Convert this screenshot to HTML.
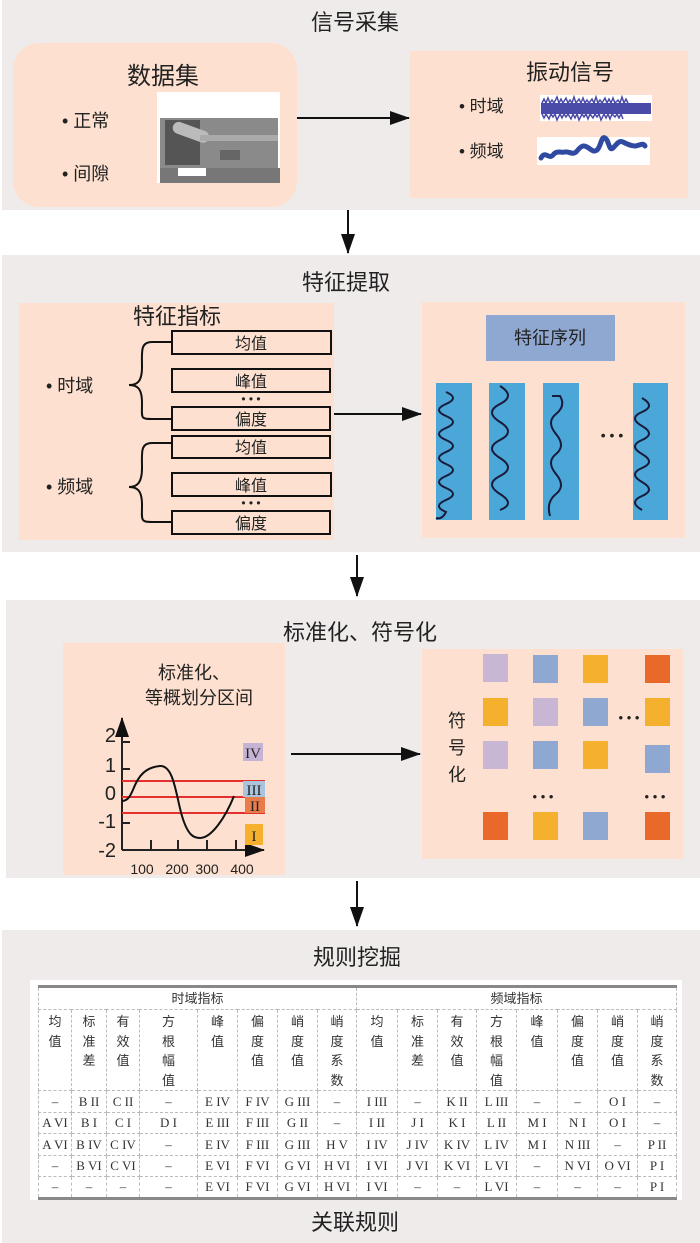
<!DOCTYPE html>
<html><head><meta charset="utf-8"><style>
*{margin:0;padding:0;box-sizing:border-box}
body{width:700px;height:1243px;background:#fff;position:relative;overflow:hidden;font-family:"Liberation Sans","Noto Sans CJK SC",sans-serif;color:#222}
svg{position:absolute;left:0;top:0}
.t{font-family:"Liberation Sans","Noto Sans CJK SC",sans-serif;fill:#222}
table{position:absolute;left:38px;top:985px;width:638px;border-collapse:collapse;font-family:"Liberation Serif","Noto Serif CJK SC",serif;font-size:13px;table-layout:fixed;background:#fff;border-top:3px solid #888;border-bottom:3px solid #888}
td{border:1px dashed #bbb;text-align:center;vertical-align:top;padding:0;line-height:19.5px;color:#333}
tr.h1 td{height:23px;vertical-align:middle;font-family:"Liberation Sans","Noto Sans CJK SC",sans-serif;font-size:13px}
tr.h2 td{height:79px;padding-top:2px;font-family:"Liberation Sans","Noto Sans CJK SC",sans-serif}
tr.d td{height:21.6px;vertical-align:middle;white-space:nowrap;font-size:13px}
</style></head><body>
<svg width="700" height="1243" viewBox="0 0 700 1243">
<defs><marker id="b" markerWidth="20" markerHeight="14" refX="19" refY="7" orient="auto" markerUnits="userSpaceOnUse"><path d="M0,0 L20,7 L0,14 z" fill="#111"/></marker></defs>
<!-- panel 1 -->
<rect x="2" y="0" width="698" height="210" fill="#efebeb"/>
<text class="t" x="355" y="30" font-size="22" text-anchor="middle">信号采集</text>
<rect x="13" y="43" width="284" height="164" rx="26" fill="#fde0cf"/>
<text class="t" x="163" y="84" font-size="24" text-anchor="middle">数据集</text>
<text class="t" x="62" y="127" font-size="18">•  正常</text>
<text class="t" x="62" y="180" font-size="18">•  间隙</text>
<rect x="157" y="92" width="123" height="91" fill="#fff"/>
<rect x="160" y="118" width="118" height="50" fill="#8a8a8a"/>
<rect x="165" y="120" width="35" height="45" fill="#555"/>
<rect x="172" y="126" width="38" height="12" rx="6" fill="#bbb" transform="rotate(20 190 132)"/>
<rect x="200" y="135" width="78" height="6" fill="#aaa"/>
<rect x="160" y="168" width="120" height="15" fill="#777"/>
<rect x="178" y="168" width="28" height="8" fill="#fff"/>
<rect x="220" y="150" width="20" height="10" fill="#666"/>
<line x1="297" y1="118" x2="409" y2="118" stroke="#111" stroke-width="2" marker-end="url(#b)"/>
<rect x="410" y="51" width="278" height="147" fill="#fde0cf"/>
<text class="t" x="570" y="80" font-size="22" text-anchor="middle">振动信号</text>
<text class="t" x="459" y="112" font-size="17">• 时域</text>
<text class="t" x="459" y="157" font-size="17">• 频域</text>
<rect x="540" y="95" width="112" height="26" fill="#fff"/>
<rect x="541" y="103" width="110" height="11" fill="#4a4aa8"/>
<path d="M542,103 l2,-4 2,4 2,-5 2,5 2,-3 2,3 3,-6 2,6 2,-4 2,4 3,-5 2,5 2,-3 2,3 2,-6 2,6 3,-4 2,4 2,-5 2,5 2,-3 2,3 3,-4 2,4 2,-6 2,6 2,-3 2,3 3,-5 2,5 2,-4 2,4 2,-5 2,5 3,-3 2,3 2,-6 2,6 2,-4 2,4 M542,114 l2,4 2,-4 3,5 2,-5 2,3 2,-3 2,6 3,-6 2,4 2,-4 2,3 2,-3 3,5 2,-5 2,4 2,-4 2,6 3,-6 2,3 2,-3 2,5 2,-5 3,4 2,-4 2,3 2,-3 2,6 3,-6 2,4 2,-4 2,5 2,-5 3,3 2,-3 2,4 2,-4 2,5" fill="none" stroke="#4a4aa8" stroke-width="1.5"/>
<rect x="537" y="137" width="113" height="28" fill="#fff"/>
<path d="M541,158 c4,-8 8,2 12,-3 s8,-2 12,-3 s8,4 12,-1 s6,-6 10,-4 s6,6 10,3 s4,-14 8,-12 s4,14 8,10 s6,-8 10,-6 s8,4 12,4 s8,-4 10,0" fill="none" stroke="#2f4aa0" stroke-width="5" stroke-linecap="round"/>
<line x1="348" y1="210" x2="348" y2="253" stroke="#111" stroke-width="2" marker-end="url(#b)"/>
<!-- panel 2 -->
<rect x="2" y="255" width="698" height="297" fill="#efebeb"/>
<text class="t" x="346" y="290" font-size="22" text-anchor="middle">特征提取</text>
<rect x="19" y="303" width="315" height="237" fill="#fde0cf"/>
<text class="t" x="177" y="324" font-size="22" text-anchor="middle">特征指标</text>
<g fill="none" stroke="#111" stroke-width="2">
<rect x="172" y="331" width="159" height="23"/><rect x="172" y="369" width="158" height="23"/><rect x="172" y="407" width="158" height="23"/>
<rect x="172" y="436" width="158" height="22"/><rect x="172" y="473" width="159" height="23"/><rect x="172" y="511" width="158" height="23"/>
<path d="M172,342 h-20 c-12,0 -10,10 -10,25 c0,15 -5,18 -13,18 c8,0 13,3 13,18 c0,15 -2,16 10,16 h20"/>
<path d="M172,443 h-20 c-12,0 -10,10 -10,25 c0,15 -5,19 -13,19 c8,0 13,3 13,18 c0,15 -2,17 10,17 h20"/>
</g>
<g class="t" font-size="16" text-anchor="middle">
<text x="251" y="349">均值</text><text x="251" y="387">峰值</text><text x="251" y="425">偏度</text>
<text x="251" y="453">均值</text><text x="251" y="491">峰值</text><text x="251" y="529">偏度</text>
</g>
<text class="t" x="251" y="403" font-size="12" text-anchor="middle">• • •</text>
<text class="t" x="251" y="507" font-size="12" text-anchor="middle">• • •</text>
<text class="t" x="46" y="392" font-size="18">•  时域</text>
<text class="t" x="46" y="493" font-size="18">•  频域</text>
<line x1="334" y1="414" x2="421" y2="414" stroke="#111" stroke-width="2" marker-end="url(#b)"/>
<rect x="422" y="302" width="263" height="236" fill="#fde0cf"/>
<rect x="486" y="315" width="129" height="46" fill="#8fa8d2"/>
<text class="t" x="550" y="344" font-size="18" text-anchor="middle">特征序列</text>
<g fill="#4aa7d8"><rect x="436" y="383" width="36" height="137"/><rect x="489" y="383" width="36" height="137"/><rect x="543" y="383" width="36" height="137"/><rect x="633" y="383" width="35" height="137"/></g>
<g fill="none" stroke="#1a1a3a" stroke-width="2">
<path d="M446,392 q14,6 0,12 t0,12 t0,12 t0,12 t0,12 t0,12 t0,12 t0,12 t0,12 t0,12 q-4,8 -10,6"/>
<path d="M500,386 q16,10 0,18 t0,18 t0,18 t0,18 t0,18 t0,18 t0,16"/>
<path d="M552,396 h8 q6,10 -4,18 t0,20 t0,20 t0,20 t0,20 t-6,22"/>
<path d="M642,398 q14,8 0,14 t0,14 t0,14 t0,14 t0,14 t0,14 t0,14 t0,14"/>
</g>
<text class="t" x="612" y="440" font-size="14" text-anchor="middle">• • •</text>
<line x1="357" y1="555" x2="357" y2="596" stroke="#111" stroke-width="2" marker-end="url(#b)"/>
<!-- panel 3 -->
<rect x="6" y="600" width="694" height="278" fill="#efebeb"/>
<text class="t" x="360" y="640" font-size="22" text-anchor="middle">标准化、符号化</text>
<rect x="63" y="643" width="222" height="232" fill="#fde0cf"/>
<text class="t" x="194" y="679" font-size="18" text-anchor="middle">标准化、</text>
<text class="t" x="199" y="704" font-size="18" text-anchor="middle">等概划分区间</text>
<g stroke="#222" stroke-width="2" fill="none">
<line x1="122" y1="850" x2="122" y2="718" marker-end="url(#b)"/>
<line x1="122" y1="850" x2="264" y2="850" marker-end="url(#b)"/>
<path d="M122,742 h8 M122,769 h8 M122,797 h8 M122,823 h8 M151,850 v-10 M178,850 v-10 M207,850 v-10 M236,850 v-10"/>
</g>
<g stroke="#e53030" stroke-width="2"><line x1="122" y1="781" x2="265" y2="781"/><line x1="122" y1="797" x2="265" y2="797"/><line x1="122" y1="813" x2="265" y2="813"/></g>
<path d="M122,801 c8,0 10,-10 14,-18 c6,-12 14,-16 24,-17 c14,-1 16,30 22,50 c6,20 12,22 18,22 c12,0 26,-22 34,-42" fill="none" stroke="#111" stroke-width="2"/>
<rect x="243" y="743" width="20" height="18" fill="#c5b3d6"/><rect x="243" y="781" width="22" height="16" fill="#a9c4dc"/>
<rect x="245" y="797" width="20" height="16" fill="#e87c4a"/><rect x="245" y="824" width="18" height="21" fill="#f5b12e"/>
<g font-family="Liberation Serif,serif" font-size="15" fill="#222" text-anchor="middle">
<text x="253" y="758">IV</text><text x="254" y="795">III</text><text x="255" y="811">II</text><text x="254" y="841">I</text></g>
<g class="t" font-size="20" text-anchor="end"><text x="116" y="742">2</text><text x="116" y="772">1</text><text x="116" y="800">0</text><text x="116" y="828">-1</text><text x="116" y="857">-2</text></g>
<g class="t" font-size="14" text-anchor="middle"><text x="142" y="874">100</text><text x="177" y="874">200</text><text x="207" y="874">300</text><text x="242" y="874">400</text></g>
<line x1="291" y1="754" x2="420" y2="754" stroke="#111" stroke-width="2" marker-end="url(#b)"/>
<rect x="422" y="649" width="261" height="210" fill="#fde0cf"/>
<g class="t" font-size="18" text-anchor="middle"><text x="457" y="727">符</text><text x="457" y="754">号</text><text x="457" y="781">化</text></g>
<g>
<rect x="483" y="654" width="25" height="28" fill="#c9b6d4"/><rect x="533" y="655" width="25" height="28" fill="#8fa8d2"/><rect x="583" y="655" width="25" height="28" fill="#f5b12e"/><rect x="645" y="655" width="25" height="28" fill="#e8692a"/>
<rect x="483" y="698" width="25" height="28" fill="#f5b12e"/><rect x="533" y="698" width="25" height="28" fill="#c9b6d4"/><rect x="583" y="698" width="25" height="28" fill="#8fa8d2"/><rect x="645" y="698" width="25" height="28" fill="#f5b12e"/>
<rect x="483" y="741" width="25" height="28" fill="#c9b6d4"/><rect x="533" y="741" width="25" height="28" fill="#8fa8d2"/><rect x="583" y="741" width="25" height="28" fill="#f5b12e"/><rect x="645" y="745" width="25" height="28" fill="#8fa8d2"/>
<rect x="483" y="812" width="25" height="28" fill="#e8692a"/><rect x="533" y="812" width="25" height="28" fill="#f5b12e"/><rect x="583" y="812" width="25" height="28" fill="#8fa8d2"/><rect x="645" y="812" width="25" height="28" fill="#e8692a"/>
</g>
<g class="t" font-size="13" text-anchor="middle"><text x="629" y="722">• • •</text><text x="543" y="801">• • •</text><text x="655" y="801">• • •</text></g>
<line x1="357" y1="881" x2="357" y2="926" stroke="#111" stroke-width="2" marker-end="url(#b)"/>
<!-- panel 4 -->
<rect x="2" y="930" width="698" height="313" fill="#efebeb"/>
<text class="t" x="357" y="965" font-size="22" text-anchor="middle">规则挖掘</text>
<rect x="30" y="980" width="652" height="220" fill="#fff"/>
<text class="t" x="355" y="1230" font-size="22" text-anchor="middle">关联规则</text>
</svg>
<table>
<colgroup><col style="width:33px"><col style="width:35px"><col style="width:33px"><col style="width:58px"><col style="width:40px"><col style="width:40px"><col style="width:40px"><col style="width:39px"><col style="width:41px"><col style="width:40px"><col style="width:39px"><col style="width:40px"><col style="width:41px"><col style="width:40px"><col style="width:40px"><col style="width:39px"></colgroup>
<tr class="h1"><td colspan="8">时域指标</td><td colspan="8">频域指标</td></tr>
<tr class="h2"><td>均<br>值</td><td>标<br>准<br>差</td><td>有<br>效<br>值</td><td>方<br>根<br>幅<br>值</td><td>峰<br>值</td><td>偏<br>度<br>值</td><td>峭<br>度<br>值</td><td>峭<br>度<br>系<br>数</td><td>均<br>值</td><td>标<br>准<br>差</td><td>有<br>效<br>值</td><td>方<br>根<br>幅<br>值</td><td>峰<br>值</td><td>偏<br>度<br>值</td><td>峭<br>度<br>值</td><td>峭<br>度<br>系<br>数</td></tr>
<tr class="d"><td>–</td><td>B II</td><td>C II</td><td>–</td><td>E IV</td><td>F IV</td><td>G III</td><td>–</td><td>I III</td><td>–</td><td>K II</td><td>L III</td><td>–</td><td>–</td><td>O I</td><td>–</td></tr>
<tr class="d"><td>A VI</td><td>B I</td><td>C I</td><td>D I</td><td>E III</td><td>F III</td><td>G II</td><td>–</td><td>I II</td><td>J I</td><td>K I</td><td>L II</td><td>M I</td><td>N I</td><td>O I</td><td>–</td></tr>
<tr class="d"><td>A VI</td><td>B IV</td><td>C IV</td><td>–</td><td>E IV</td><td>F III</td><td>G III</td><td>H V</td><td>I IV</td><td>J IV</td><td>K IV</td><td>L IV</td><td>M I</td><td>N III</td><td>–</td><td>P II</td></tr>
<tr class="d"><td>–</td><td>B VI</td><td>C VI</td><td>–</td><td>E VI</td><td>F VI</td><td>G VI</td><td>H VI</td><td>I VI</td><td>J VI</td><td>K VI</td><td>L VI</td><td>–</td><td>N VI</td><td>O VI</td><td>P I</td></tr>
<tr class="d"><td>–</td><td>–</td><td>–</td><td>–</td><td>E VI</td><td>F VI</td><td>G VI</td><td>H VI</td><td>I VI</td><td>–</td><td>–</td><td>L VI</td><td>–</td><td>–</td><td>–</td><td>P I</td></tr>
</table>
</body></html>
